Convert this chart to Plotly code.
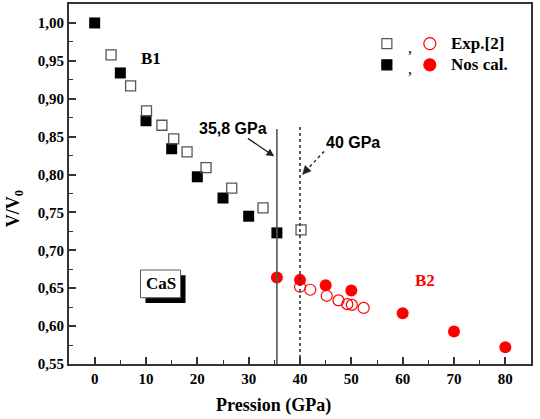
import plotly.graph_objects as go

# ---- data ----
b1_exp_p = [3.2, 7.0, 10.1, 13.1, 15.4, 18.0, 21.7, 26.7, 32.8, 40.2]
b1_exp_v = [0.958, 0.917, 0.884, 0.865, 0.847, 0.830, 0.809, 0.782, 0.756, 0.727]
b1_cal_p = [0, 5, 10, 15, 20, 25, 30, 35.5]
b1_cal_v = [1.000, 0.934, 0.871, 0.834, 0.797, 0.769, 0.745, 0.723]
b2_exp_p = [40.0, 42.0, 45.2, 47.5, 49.2, 50.1, 52.4]
b2_exp_v = [0.652, 0.648, 0.640, 0.634, 0.629, 0.628, 0.624]
b2_cal_p = [35.5, 40, 45, 50, 60, 70, 80]
b2_cal_v = [0.664, 0.661, 0.654, 0.647, 0.617, 0.593, 0.572]
trans_calc = 35.5
trans_exp = 40.0
trans_calc_label = "35,8 GPa"
trans_exp_label = "40 GPa"

SERIF = "Liberation Serif, Times New Roman, serif"
SANS = "Liberation Sans, Arial, sans-serif"
RED = "#ff0000"

fig = go.Figure()
fig.add_trace(go.Scatter(x=b1_cal_p, y=b1_cal_v, mode="markers",
                         marker=dict(symbol="square", size=11, color="black"), showlegend=False))
fig.add_trace(go.Scatter(x=b2_cal_p, y=b2_cal_v, mode="markers",
                         marker=dict(symbol="circle", size=12, color=RED), showlegend=False))
fig.add_trace(go.Scatter(x=b1_exp_p, y=b1_exp_v, mode="markers",
                         marker=dict(symbol="square-open", size=10, color="#555555", line=dict(width=1.3)),
                         showlegend=False))
fig.add_trace(go.Scatter(x=b2_exp_p, y=b2_exp_v, mode="markers",
                         marker=dict(symbol="circle-open", size=11, color=RED, line=dict(width=1.2)),
                         showlegend=False))

shapes = []
# transition lines
shapes.append(dict(type="line", xref="x", yref="y", x0=trans_calc, x1=trans_calc, y0=0.55, y1=0.86,
                   line=dict(color="#555555", width=1.6)))
shapes.append(dict(type="line", xref="x", yref="y", x0=trans_exp, x1=trans_exp, y0=0.55, y1=0.863,
                   line=dict(color="#333333", width=1.6, dash="dot")))
# dotted arrow shaft for 40 GPa
shapes.append(dict(type="line", xref="x", yref="y", x0=44.7, y0=0.8305, x1=41.0, y1=0.804,
                   line=dict(color="#222222", width=1.4, dash="dot")))
# arrow head for 40 GPa (pixel-sized triangle anchored at the tip)
shapes.append(dict(type="path", xref="x", yref="y", xsizemode="pixel", ysizemode="pixel",
                   xanchor=40.5, yanchor=0.800, path="M 0 0 L 2.5 9 L 8.5 3.5 Z",
                   fillcolor="#222222", line=dict(color="#222222", width=0.5)))
# CaS box with shadow
shapes.append(dict(type="rect", xref="x", yref="y", x0=9.9, x1=17.7, y0=0.6305, y1=0.667,
                   fillcolor="black", line=dict(width=0)))
shapes.append(dict(type="rect", xref="x", yref="y", x0=8.93, x1=16.74, y0=0.6374, y1=0.674,
                   fillcolor="white", line=dict(color="#555555", width=1)))

# legend markers
def leg_marker(kind, xp, yp, size, color, filled):
    h = size / 2
    d = dict(type=kind, xref="paper", yref="paper", xsizemode="pixel", ysizemode="pixel",
             xanchor=xp, yanchor=yp, x0=-h, x1=h, y0=-h, y1=h,
             line=dict(color=color, width=1.2))
    if filled:
        d["fillcolor"] = color
    return d

row1, row2 = 0.890, 0.831
shapes.append(leg_marker("rect", 0.688, row1, 10, "#555555", False))
shapes.append(leg_marker("circle", 0.781, row1, 12, RED, False))
shapes.append(leg_marker("rect", 0.688, row2, 10, "black", True))
shapes.append(leg_marker("circle", 0.781, row2, 12, RED, True))

ann = []
bold_serif = lambda s: dict(family=SERIF, size=s, color="black", weight="bold")
ann.append(dict(text="Exp.[2]", x=0.823, y=row1, xref="paper", yref="paper", xanchor="left",
                yanchor="middle", showarrow=False, font=bold_serif(17)))
ann.append(dict(text="Nos cal.", x=0.823, y=row2, xref="paper", yref="paper", xanchor="left",
                yanchor="middle", showarrow=False, font=bold_serif(17)))
for r in (row1, row2):
    ann.append(dict(text=",", x=0.738, y=r, xref="paper", yref="paper", xanchor="center",
                    yanchor="middle", yshift=-4, showarrow=False, font=dict(family=SERIF, size=16, color="black")))

ann.append(dict(text="B1", x=10.9, y=0.953, xref="x", yref="y", showarrow=False, font=bold_serif(17)))
ann.append(dict(text="B2", x=64.4, y=0.660, xref="x", yref="y", showarrow=False,
                font=dict(family=SERIF, size=17, color=RED, weight="bold")))
ann.append(dict(text="CaS", x=12.83, y=0.6557, xref="x", yref="y", showarrow=False, font=bold_serif(17)))

ann.append(dict(text=trans_calc_label, x=34.98, y=0.824, xref="x", yref="y", ax=-41, ay=-28,
                showarrow=True, arrowhead=2, arrowsize=1.2, arrowwidth=1.3, arrowcolor="#222222",
                font=dict(family=SANS, size=16, color="black", weight="bold"), standoff=0))
ann.append(dict(text=trans_exp_label, x=44.6, y=0.842, xref="x", yref="y", xanchor="left",
                showarrow=False, font=dict(family=SANS, size=16, color="black", weight="bold")))

# axis titles
ann.append(dict(text="Pression (GPa)", x=0.4437, y=-0.116, xref="paper", yref="paper",
                xanchor="center", yanchor="middle", showarrow=False, font=bold_serif(18)))
ann.append(dict(text="V/V<sub>0</sub>", x=-0.119, y=0.43, xref="paper", yref="paper",
                xanchor="center", yanchor="middle",
                showarrow=False, textangle=-90, font=bold_serif(18)))

axis_common = dict(showgrid=False, zeroline=False, showline=True, linecolor="#333333", linewidth=2,
                   mirror=True, ticks="inside", ticklen=7, tickwidth=1.5, tickcolor="#333333")

fig.update_layout(
    width=540, height=419, margin=dict(l=69, r=9, t=2, b=55),
    paper_bgcolor="white", plot_bgcolor="white", separators=", ",
    shapes=shapes, annotations=ann,
    xaxis=dict(range=[-5, 85], tick0=0, dtick=10,
               tickfont=dict(family=SERIF, size=15, color="black", weight="bold"),
               minor=dict(dtick=5, ticks="inside", ticklen=4, tickwidth=1.3, tickcolor="#333333"),
               **axis_common),
    yaxis=dict(range=[0.55, 1.025], tick0=0.55, dtick=0.05, tickformat=".2f",
               tickfont=dict(family=SERIF, size=15, color="black", weight="bold"),
               minor=dict(dtick=0.025, ticks="inside", ticklen=4, tickwidth=1.3, tickcolor="#333333"),
               **axis_common),
)

fig.write_html("out.html")
